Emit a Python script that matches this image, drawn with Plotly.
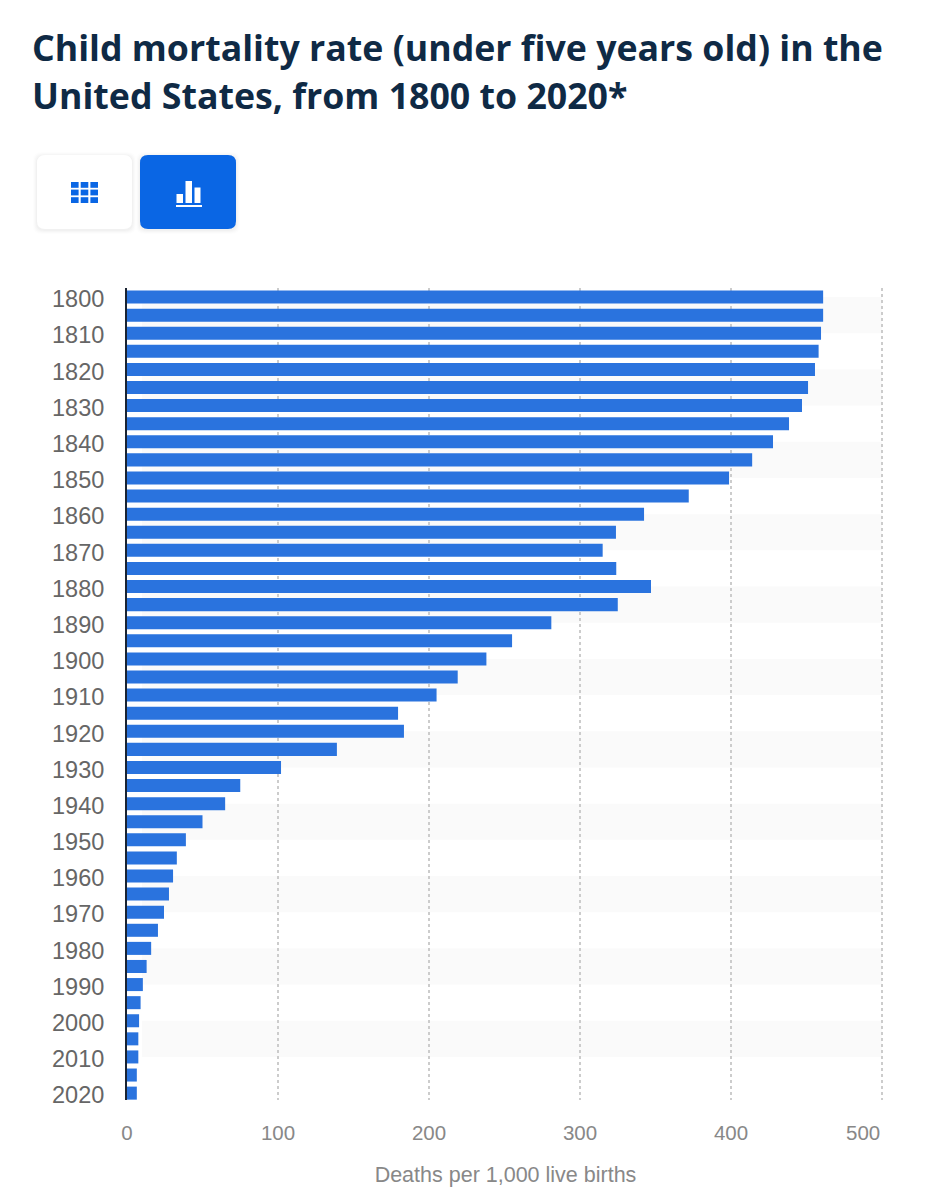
import plotly.graph_objects as go

years = [1800, 1805, 1810, 1815, 1820, 1825, 1830, 1835, 1840, 1845, 1850, 1855, 1860, 1865, 1870,
         1875, 1880, 1885, 1890, 1895, 1900, 1905, 1910, 1915, 1920, 1925, 1930, 1935, 1940, 1945,
         1950, 1955, 1960, 1965, 1970, 1975, 1980, 1985, 1990, 1995, 2000, 2005, 2010, 2015, 2020]
deaths = [461, 461, 459.6, 458, 455.6, 451, 447, 438.4, 427.8, 414, 398.7, 372, 342.4, 323.8, 315,
          324, 347, 325, 281, 255, 238, 219, 205, 179.5, 183.4, 139, 102, 75, 65, 50,
          39, 33, 30.5, 27.8, 24.5, 20.5, 16, 13, 10.5, 9, 8, 7.5, 7.5, 6.5, 6.5]
year_ticks = [1800, 1810, 1820, 1830, 1840, 1850, 1860, 1870, 1880, 1890, 1900, 1910,
              1920, 1930, 1940, 1950, 1960, 1970, 1980, 1990, 2000, 2010, 2020]
value_ticks = [0, 100, 200, 300, 400, 500]
value_labels = ['0', '100', '200', '300', '400', '']  # 500 sits inside the edge, added below
title_lines = ['Child mortality rate (under five years old) in the',
               'United States, from 1800 to 2020*']

# page pixels -> paper coordinates, plot area is 127..884 by 288..1100
def px(x):
    return (x - 127) / 757

def py(y):
    return (1100 - y) / 812

def rounded(x0, y0, x1, y1, r):
    return (f'M {px(x0 + r)} {py(y0)} L {px(x1 - r)} {py(y0)} Q {px(x1)} {py(y0)} {px(x1)} {py(y0 + r)} '
            f'L {px(x1)} {py(y1 - r)} Q {px(x1)} {py(y1)} {px(x1 - r)} {py(y1)} '
            f'L {px(x0 + r)} {py(y1)} Q {px(x0)} {py(y1)} {px(x0)} {py(y1 - r)} '
            f'L {px(x0)} {py(y0 + r)} Q {px(x0)} {py(y0)} {px(x0 + r)} {py(y0)} Z')

def button(x0, y0, x1, y1, r, color):
    return dict(type='path', xref='paper', yref='paper', path=rounded(x0, y0, x1, y1, r),
                fillcolor=color, line=dict(width=0), layer='above')

def box(x0, y0, x1, y1, color):
    return dict(type='rect', xref='paper', yref='paper', x0=px(x0), x1=px(x1), y0=py(y0), y1=py(y1),
                fillcolor=color, line=dict(width=0), layer='above')

BLUE = '#0a66e4'
shapes = []

# alternating bands behind the gridlines
for start in year_ticks[0:-1:2]:
    shapes.append(dict(type='rect', xref='x', yref='y', x0=10, x1=value_ticks[-1],
                       y0=start, y1=start + 10, fillcolor='#fafafa', line=dict(width=0), layer='below'))

# soft shadow of the buttons
for grow, color in [(4, 'rgba(0,0,0,0.008)'), (3, 'rgba(0,0,0,0.012)'), (2, 'rgba(0,0,0,0.016)'), (1, 'rgba(0,0,0,0.02)')]:
    shapes.append(button(37 - grow, 155 - grow + 1, 132 + grow, 229 + grow + 1, 8, color))
    shapes.append(button(140 - grow, 155 - grow + 1, 236 + grow, 229 + grow + 1, 8, color))
shapes.append(button(37, 155, 132, 229, 8, '#ffffff'))
shapes.append(button(140, 155, 236, 229, 8, BLUE))

# table icon
for col in range(3):
    for row in range(3):
        cx = 71 + col * 9.7
        cy = 182 + row * 7.6
        shapes.append(box(cx, cy, cx + 7.6, cy + 5.8, BLUE))

# bar chart icon
shapes.append(box(176.5, 194, 183, 203, '#ffffff'))
shapes.append(box(185.5, 181, 192, 203, '#ffffff'))
shapes.append(box(194.5, 187.5, 200.5, 203, '#ffffff'))
shapes.append(box(176, 205, 202, 207, '#ffffff'))

fig = go.Figure()
fig.add_trace(go.Bar(
    x=deaths,
    y=years,
    orientation='h',
    width=3.6,
    marker=dict(color='#2a73de', line=dict(width=0)),
))

fig.update_layout(
    width=925,
    height=1200,
    autosize=False,
    margin=dict(l=127, r=41, t=288, b=100, autoexpand=False),
    paper_bgcolor='#ffffff',
    plot_bgcolor='#ffffff',
    showlegend=False,
    shapes=shapes,
    font=dict(family='Liberation Sans'),
    xaxis=dict(
        range=[0, 501.3],
        tickvals=value_ticks,
        ticktext=value_labels,
        showgrid=True,
        gridcolor='#cccccc',
        gridwidth=2,
        griddash='dot',
        zeroline=False,
        showline=False,
        ticks='outside',
        ticklen=14,
        tickcolor='rgba(0,0,0,0)',
        tickfont=dict(size=20.5, color='#888888'),
        title=dict(text='Deaths per 1,000 live births', standoff=24,
                   font=dict(size=21.5, color='#888888')),
    ),
    yaxis=dict(
        range=[2021.9, 1797.5],
        tickvals=year_ticks,
        showgrid=False,
        zeroline=False,
        showline=True,
        linecolor='#1a2433',
        linewidth=2,
        ticks='outside',
        ticklen=16,
        tickcolor='rgba(0,0,0,0)',
        ticklabelshift=-2,
        tickfont=dict(size=23.5, color='#666666'),
    ),
)

for line, y_pos in zip(title_lines, [46.5, 94.5]):
    fig.add_annotation(xref='paper', yref='paper', x=px(30), y=py(y_pos), xanchor='left', yanchor='middle',
                       text=f'<b>{line}</b>', showarrow=False,
                       font=dict(family='Open Sans', size=35.7, color='#0f2a45'))

fig.add_annotation(xref='x', yref='paper', x=value_ticks[-1], y=py(1132), xanchor='right', yanchor='middle',
                   text=str(value_ticks[-1]), showarrow=False, xshift=0,
                   font=dict(size=20.5, color='#888888'))

fig.write_html('out.html', config=dict(displayModeBar=False),
               post_script="document.body.style.margin='0';document.body.style.overflow='hidden';")
